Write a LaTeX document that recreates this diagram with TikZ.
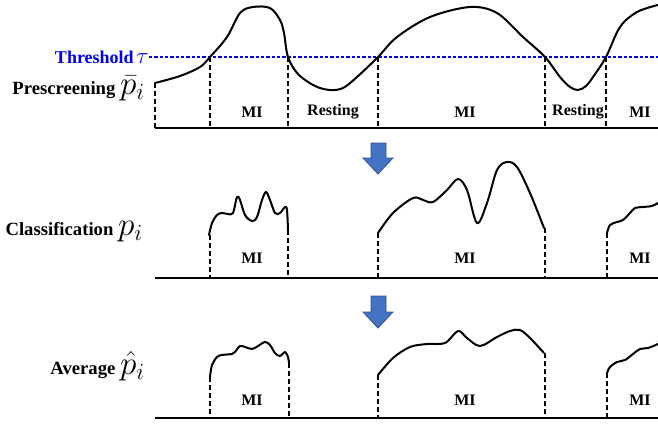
\documentclass[tikz,border=0pt]{standalone}
\usepackage{fontspec}
\setmainfont{Liberation Serif}
\usepackage{tikz}
\usetikzlibrary{calc}
\definecolor{cthr}{HTML}{0000EE}
\definecolor{carrow}{HTML}{4472C4}
\definecolor{carrowd}{HTML}{2F528F}
\newcommand{\bigmath}[1]{{\fontsize{24}{26}\selectfont$#1$}}
\newcommand{\midmath}[1]{{\fontsize{18}{20}\selectfont$#1$}}
\tikzset{
  sig/.style={line width=1.5pt, line join=round, line cap=round},
  axisl/.style={line width=1.1pt},
  bound/.style={line width=0.9pt, dash pattern=on 3.5pt off 2.5pt},
  thrl/.style={draw=cthr, line width=0.8pt, dash pattern=on 2.5pt off 1.5pt},
  seglbl/.style={inner sep=1pt, font=\fontsize{12}{14}\selectfont\bfseries},
  rowlbl/.style={anchor=east, inner sep=0pt, font=\fontsize{14}{16}\selectfont\bfseries},
  downarr/.style={fill=carrow, draw=carrowd, line width=0.6pt, line join=miter},
}

\begin{document}
\begin{tikzpicture}[x=0.75pt,y=-0.75pt]
\useasboundingbox (0,0) rectangle (658,426);
% --- prescreening
\node[rowlbl, text=cthr, font=\fontsize{13.5}{16}\selectfont\bfseries] (thr) at (149,57) {Threshold\hspace{2pt}\midmath{\tau}};
\draw[thrl] (thr.east) -- (658,57);
\node[rowlbl] (pre) at (145,88) {Prescreening \bigmath{\bar{p}_i}};
\draw[sig] plot[smooth, tension=0.55] coordinates {(155,83) (180,76) (200,67) (210,57) (227,37) (240,13) (253,7) (270,8) (280,20) (284,33) (288,57) (298,74) (315,86) (330,90) (343,88) (357,77) (378,57) (397,37) (430,17) (470,7) (497,13) (523,37) (545,57) (560,77) (570,87) (578,90) (586,86) (593,77) (606,57) (620,27) (637,12) (658,5)};
\foreach \x/\y in {155/83, 210/57, 288/57, 378/57, 545/57, 606/57}
  \draw[bound] (\x,\y) -- (\x,128);
\draw[axisl] (155,128) -- (658,128);
\foreach \x/\t [count=\i] in {252/MI, 333/Resting, 465/MI, 578/Resting, 640/MI}
  \node[seglbl] (pre\i) at (\x,112) {\t};
% --- arrows between rows
\foreach \ya/\yb/\yc [count=\i] in {143/158/174, 296/312/328}
  \draw[downarr] (371,\ya) -- (386,\ya) -- (386,\yb) -- (393,\yb) -- (378,\yc) -- (363,\yb) -- (371,\yb) -- cycle;
% --- classification
\node[rowlbl] (cls) at (143,232) {Classification \bigmath{p_i}};
\draw[sig] plot[smooth, tension=0.55] coordinates {(209,235) (212,223) (217,215) (222,213) (228,214) (233,213) (237,197) (240,200) (245,215) (252,221) (257,217) (262,200) (266,192) (270,200) (275,213) (280,213) (285,207) (287,210) (288,230)};
\draw[sig] plot[smooth, tension=0.55] coordinates {(378,233) (393,213) (413,198) (423,200) (433,202) (447,190) (458,179) (467,190) (477,223) (487,203) (497,170) (507,162) (517,167) (530,193) (544,228)};
\draw[sig] plot[smooth, tension=0.55] coordinates {(607,233) (610,225) (617,222) (623,220) (630,213) (635,208) (643,207) (652,206) (658,203)};
\foreach \x/\y in {210/235, 288/230, 378/233, 545/228, 607/233}
  \draw[bound] (\x,\y) -- (\x,278);
\draw[axisl] (155,278) -- (658,278);
\foreach \x [count=\i] in {252, 465, 640}
  \node[seglbl] (cls\i) at (\x,258) {MI};
% --- average
\node[rowlbl] (avg) at (145,366) {Average \bigmath{\hat{p}_i}};
\draw[sig] plot[smooth, tension=0.55] coordinates {(210,377) (212,365) (217,357) (222,355) (232,354) (235,352) (240,346) (245,347) (252,349) (258,346) (265,342) (270,345) (275,353) (280,356) (285,352) (288,357) (289,363)};
\draw[sig] plot[smooth, tension=0.55] coordinates {(378,375) (393,358) (410,347) (427,344) (445,343) (458,331) (467,338) (480,346) (497,337) (510,331) (520,330) (530,338) (544,353)};
\draw[sig] plot[smooth, tension=0.55] coordinates {(607,373) (610,367) (617,362) (625,360) (633,354) (640,349) (648,348) (658,344)};
\foreach \x/\y in {210/377, 289/363, 378/375, 545/353, 607/373}
  \draw[bound] (\x,\y) -- (\x,418);
\draw[axisl] (155,418) -- (658,418);
\foreach \x [count=\i] in {252, 465, 640}
  \node[seglbl] (avg\i) at (\x,400) {MI};
\end{tikzpicture}
\end{document}
